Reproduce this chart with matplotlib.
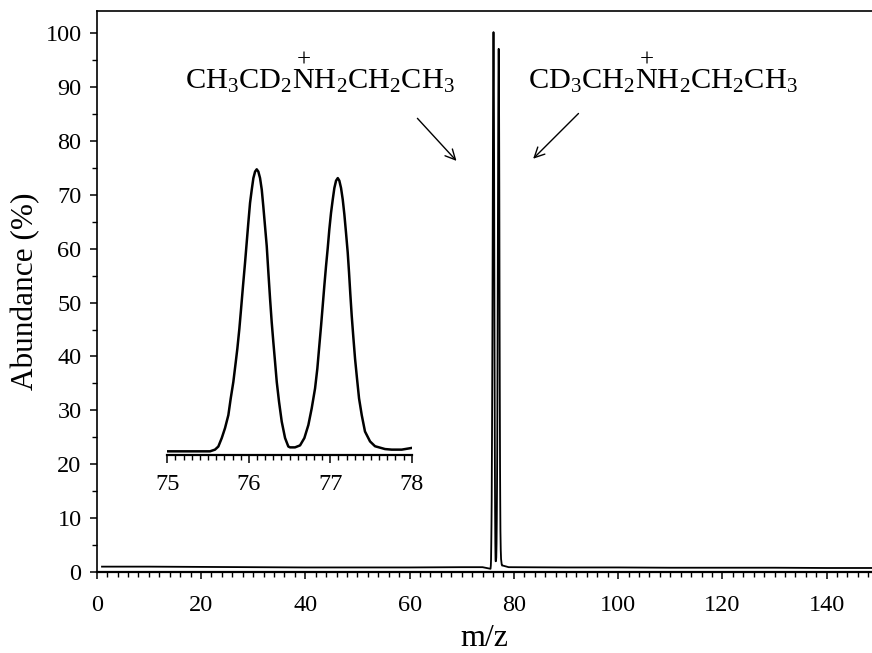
import numpy as np
import matplotlib
matplotlib.use("Agg")
import matplotlib.pyplot as plt
from matplotlib.ticker import MultipleLocator

# =====================================================
# FONTES
# =====================================================

plt.rcParams["font.family"] = "Liberation Serif"
plt.rcParams["mathtext.fontset"] = "custom"
plt.rcParams["mathtext.rm"] = "Liberation Serif"
plt.rcParams["mathtext.it"] = "Liberation Serif:italic"
plt.rcParams["mathtext.bf"] = "Liberation Serif:bold"

# =====================================================
# DADOS
# =====================================================

# linha de base antes do pico
base_esq_mz = [1, 10, 20, 30, 40, 50, 60, 70, 74]
base_esq_ab = [1.0, 1.0, 0.95, 0.9, 0.85, 0.85, 0.85, 0.9, 0.9]

# perfil dos picos 76/77 (o mesmo do detalhe ampliado)
perfil_mz = [75.000, 75.524, 75.585, 75.626, 75.668, 75.708, 75.749, 75.778,
             75.810, 75.840, 75.859, 75.884, 75.905, 75.929, 75.954, 75.974,
             75.994, 76.015, 76.036, 76.056, 76.077, 76.097, 76.117, 76.138,
             76.159, 76.178, 76.199, 76.220, 76.240, 76.261, 76.281, 76.301,
             76.322, 76.343, 76.371, 76.404, 76.445, 76.485, 76.506, 76.567,
             76.629, 76.682, 76.731, 76.772, 76.813, 76.841, 76.862, 76.887,
             76.907, 76.927, 76.948, 76.969, 76.988, 77.009, 77.030, 77.050,
             77.071, 77.092, 77.111, 77.132, 77.153, 77.173, 77.193, 77.214,
             77.230, 77.246, 77.263, 77.283, 77.304, 77.328, 77.353, 77.386,
             77.426, 77.488, 77.549, 77.672, 77.754, 77.877, 78.000]
perfil_ab = [0.6, 0.6, 1.2, 2.3, 5.3, 8.8, 13.4, 19.3,
             25.1, 32.2, 36.8, 43.9, 50.9, 59.1, 67.3, 74.3,
             81.3, 88.3, 93.0, 97.1, 99.4, 100.2, 99.4, 97.1,
             93.0, 87.1, 80.1, 73.1, 63.8, 54.4, 46.2, 39.2,
             32.2, 25.1, 18.1, 11.1, 5.3, 2.3, 2.0, 2.0,
             2.7, 5.3, 9.9, 15.8, 22.8, 29.8, 36.8, 45.0,
             52.0, 59.1, 66.1, 72.5, 78.9, 84.8, 89.5, 93.6,
             96.2, 97.1, 96.2, 93.6, 89.5, 84.2, 77.8, 70.8,
             63.8, 56.1, 48.5, 40.9, 33.3, 26.3, 19.3, 13.4,
             7.6, 4.1, 2.4, 1.4, 1.2, 1.2, 1.8]

# linha de base depois do pico
base_dir_mz = [79, 90, 100, 110, 120, 130, 140, 149]
base_dir_ab = [0.9, 0.85, 0.85, 0.8, 0.8, 0.8, 0.75, 0.75]

# formulas dos ions (o "+" vai em cima do N)
ion_esq_pre = r"$\mathrm{CH_3CD_2}$"
ion_dir_pre = r"$\mathrm{CD_3CH_2}$"
ion_pos = r"$\mathrm{NH_2CH_2CH_3}$"

# =====================================================
# FIGURA
# =====================================================

fig = plt.figure(figsize=(8.72, 6.53), dpi=100)
ax = fig.add_axes([0.111, 0.124, 0.889, 0.859])

mz = base_esq_mz + perfil_mz[1:-1] + base_dir_mz
ab = base_esq_ab + perfil_ab[1:-1] + base_dir_ab
ax.plot(mz, ab, color="black", linewidth=1.3)

ax.set_xlim(0, 148.7)
ax.set_ylim(0, 104.1)

ax.xaxis.set_major_locator(MultipleLocator(20))
ax.xaxis.set_minor_locator(MultipleLocator(2))
ax.yaxis.set_major_locator(MultipleLocator(10))
ax.yaxis.set_minor_locator(MultipleLocator(5))

ax.tick_params(which="major", direction="out", length=5, width=1.1,
               labelsize=17.5, top=False, right=False)
ax.tick_params(which="minor", direction="out", length=3.5, width=1.0,
               top=False, right=False)
ax.tick_params(axis="x", which="major", pad=11.5)
ax.tick_params(axis="y", which="major", pad=6)

ax.spines["right"].set_visible(False)
ax.spines["left"].set_linewidth(1.2)
ax.spines["top"].set_linewidth(1.2)
ax.spines["bottom"].set_linewidth(1.6)

ax.set_xlabel("m/z", fontsize=23, labelpad=6)
ax.set_ylabel("Abundance (%)", fontsize=22.5, labelpad=4)

# =====================================================
# ROTULOS DOS IONS E SETAS
# =====================================================

fs_ion = 21.8
rend = fig.canvas.get_renderer()


def largura(s):
    t = ax.text(0, 0, s, fontsize=fs_ion)
    w = t.get_window_extent(rend).width
    t.remove()
    return w


for x0, pre in [(17.0, ion_esq_pre), (82.8, ion_dir_pre)]:
    ax.text(x0, 89.7, pre[:-1] + ion_pos[1:], fontsize=fs_ion,
            ha="left", va="baseline")
    dx = largura(pre) + largura(r"$\mathrm{N}$") / 2
    ax.annotate("+", xy=(x0, 89.7), xytext=(dx * 0.72, 20.5),
                textcoords="offset points", ha="center", va="center",
                fontsize=18)

ax.annotate("", xy=(69.0, 76.3), xytext=(61.5, 84.2),
            arrowprops=dict(arrowstyle="->", color="black", lw=1.0,
                            mutation_scale=18, shrinkA=0, shrinkB=0))
ax.annotate("", xy=(83.7, 76.7), xytext=(92.4, 85.1),
            arrowprops=dict(arrowstyle="->", color="black", lw=1.0,
                            mutation_scale=18, shrinkA=0, shrinkB=0))

# =====================================================
# DETALHE AMPLIADO
# =====================================================

axi = fig.add_axes([0.1919, 0.3032, 0.2803, 0.4518])
axi.plot(perfil_mz, perfil_ab, color="black", linewidth=1.8)
axi.set_xlim(75, 78)
axi.set_ylim(-0.7, 103.5)
axi.patch.set_alpha(0)

for lado in ["left", "right", "top"]:
    axi.spines[lado].set_visible(False)
axi.spines["bottom"].set_linewidth(1.6)
axi.set_yticks([])

axi.xaxis.set_major_locator(MultipleLocator(1))
axi.xaxis.set_minor_locator(MultipleLocator(0.1))
axi.tick_params(axis="x", which="major", direction="out", length=6,
                width=1.1, labelsize=17.5, pad=8)
axi.tick_params(axis="x", which="minor", direction="out", length=3.5,
                width=1.0)

plt.savefig("out.png", dpi=100)
plt.close(fig)
